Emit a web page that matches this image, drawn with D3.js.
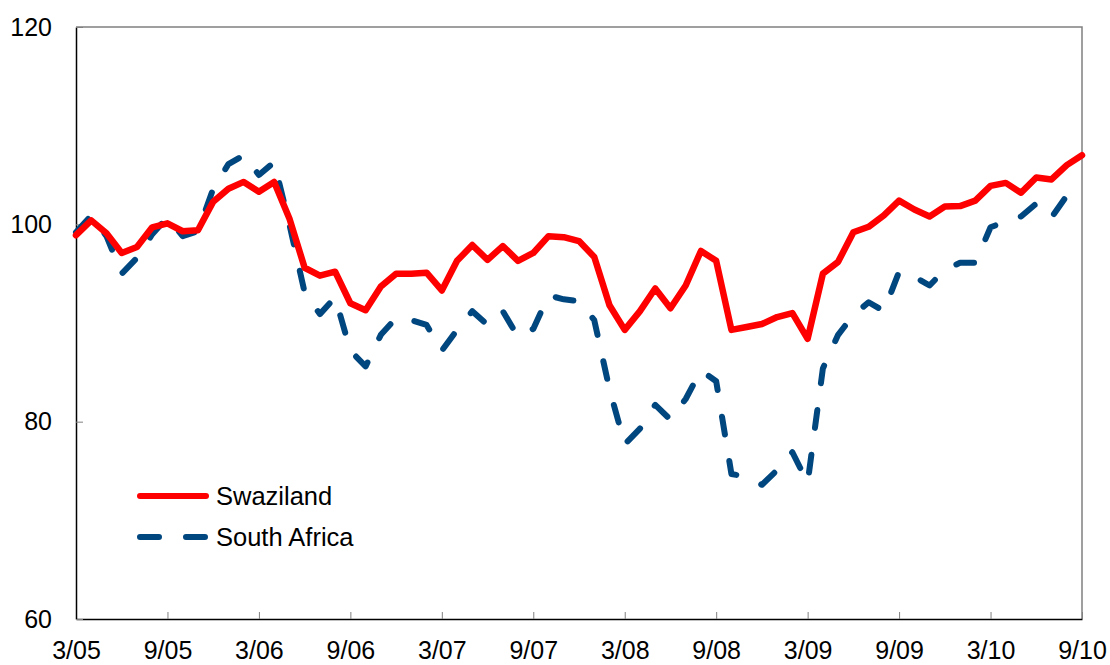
<!DOCTYPE html>
<html>
<head>
<meta charset="utf-8">
<script src="https://cdn.jsdelivr.net/npm/d3@7"></script>
<style>
  body { margin: 0; background: #fff; }
  text { font-family: "Liberation Sans", Arial, sans-serif; }
</style>
</head>
<body>
<div id="chart"></div>
<script>
// monthly index values, 3/05 .. 9/10
var monthLabels = ["3/05", "9/05", "3/06", "9/06", "3/07", "9/07", "3/08", "9/08", "3/09", "9/09", "3/10", "9/10"];
var yTicks = [60, 80, 100, 120];

var swaziland = [
  98.9, 100.4, 99.1, 97.1, 97.7, 99.7, 100.1, 99.3, 99.4, 102.3,
  103.6, 104.3, 103.3, 104.3, 100.6, 95.6, 94.8, 95.2, 92.0, 91.3,
  93.7, 95.0, 95.0, 95.1, 93.3, 96.3, 97.9, 96.4, 97.8, 96.3,
  97.1, 98.8, 98.7, 98.3, 96.7, 91.8, 89.3, 91.2, 93.5, 91.5,
  93.8, 97.3, 96.3, 89.3, 89.6, 89.9, 90.6, 91.0, 88.4, 95.0,
  96.2, 99.2, 99.75, 100.9, 102.4, 101.5, 100.8, 101.8, 101.85, 102.4,
  103.9, 104.2, 103.2, 104.75, 104.55, 106.0, 107.0
];
var southAfrica = [
  99.2, 100.9, 98.8, 95.0, 96.6, 99.0, 100.7, 98.8, 99.3, 103.6,
  106.1, 107.0, 105.0, 106.3, 100.0, 93.1, 90.9, 92.6, 87.2, 85.6,
  88.8, 90.5, 90.3, 89.8, 87.2, 89.3, 91.2, 89.8, 91.2, 88.6,
  89.4, 92.8, 92.4, 92.2, 90.3, 83.3, 77.7, 79.3, 81.7, 80.2,
  82.3, 85.2, 84.1, 74.7, 74.4, 73.6, 75.1, 76.9, 73.8, 85.4,
  88.8, 90.8, 92.1, 91.2, 95.2, 94.7, 93.8, 95.4, 96.1, 96.1,
  99.7, 100.3, 100.8, 102.1, 100.7, 102.9, 104.5
];

var width = 1110, height = 665;
var plot = {left: 76, right: 1082, top: 27, bottom: 619};

var svg = d3.select("#chart").append("svg")
    .attr("width", width)
    .attr("height", height);

var x = d3.scaleLinear().domain([0, swaziland.length - 1]).range([plot.left, plot.right]);
var y = d3.scaleLinear().domain([60, 120]).range([plot.bottom, plot.top]);

// frame: top and right in grey
svg.append("path")
  .attr("d", "M" + plot.left + "," + plot.top + "H" + plot.right + "V" + plot.bottom)
  .attr("fill", "none")
  .attr("stroke", "#808080")
  .attr("stroke-width", 1.5);

// x axis
var xAxis = d3.axisBottom(x)
  .tickValues(d3.range(0, swaziland.length, 6))
  .tickFormat(function(d) { return monthLabels[d / 6]; })
  .tickSizeInner(-7)
  .tickSizeOuter(0)
  .tickPadding(22);

var gx = svg.append("g")
  .attr("transform", "translate(0," + plot.bottom + ")")
  .call(xAxis);
gx.selectAll(".tick line").attr("stroke", "#808080");
gx.select(".domain").attr("stroke", "#000").attr("stroke-width", 1.5);
gx.selectAll("text").attr("font-size", 25).attr("fill", "#000")
  .attr("font-family", "Liberation Sans, Arial, sans-serif");

// y axis
var yAxis = d3.axisLeft(y)
  .tickValues(yTicks)
  .tickSizeInner(-7)
  .tickSizeOuter(0)
  .tickPadding(24);

var gy = svg.append("g")
  .attr("transform", "translate(" + plot.left + ",0)")
  .call(yAxis);
gy.selectAll(".tick line").attr("stroke", "#808080");
gy.select(".domain").attr("stroke", "#000").attr("stroke-width", 1.5);
gy.selectAll("text").attr("font-size", 25).attr("fill", "#000")
  .attr("font-family", "Liberation Sans, Arial, sans-serif");

// lines
var line = d3.line()
  .x(function(d, i) { return x(i); })
  .y(function(d) { return y(d); });

svg.append("path")
  .datum(southAfrica)
  .attr("d", line)
  .attr("fill", "none")
  .attr("stroke", "#00467f")
  .attr("stroke-width", 6)
  .attr("stroke-linecap", "round")
  .attr("stroke-linejoin", "round")
  .attr("stroke-dasharray", "18,27");

svg.append("path")
  .datum(swaziland)
  .attr("d", line)
  .attr("fill", "none")
  .attr("stroke", "#ff0000")
  .attr("stroke-width", 6.5)
  .attr("stroke-linecap", "round")
  .attr("stroke-linejoin", "round");

// legend
var legend = [
  {name: "Swaziland", color: "#ff0000", dash: null, y: 496},
  {name: "South Africa", color: "#00467f", dash: "19,27", y: 537}
];
var lg = svg.append("g").selectAll("g")
  .data(legend)
  .enter().append("g");
lg.append("line")
  .attr("x1", 140).attr("x2", 206)
  .attr("y1", function(d) { return d.y; })
  .attr("y2", function(d) { return d.y; })
  .attr("stroke", function(d) { return d.color; })
  .attr("stroke-width", 6)
  .attr("stroke-linecap", "round")
  .attr("stroke-dasharray", function(d) { return d.dash; });
lg.append("text")
  .attr("x", 216)
  .attr("y", function(d) { return d.y; })
  .attr("dy", "0.35em")
  .attr("font-size", 25.5)
  .text(function(d) { return d.name; });
</script>
</body>
</html>
